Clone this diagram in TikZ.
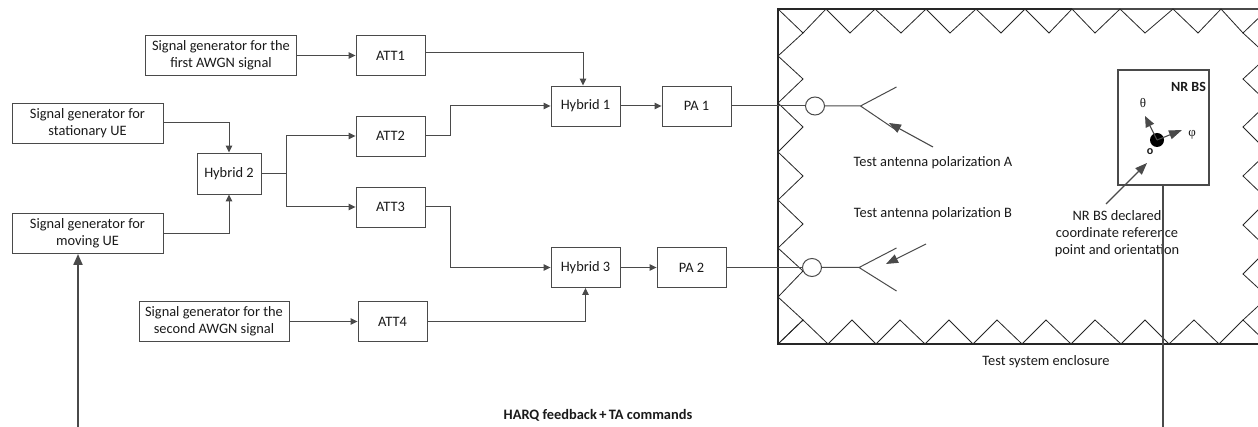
\documentclass[tikz,border=0pt]{standalone}
\usepackage{fontspec}
\setmainfont{Carlito}
\newfontfamily\symfont{Liberation Serif}
\usetikzlibrary{arrows.meta,calc,shapes.geometric}
\definecolor{ln}{HTML}{4A4A4A}
\definecolor{txt}{HTML}{1A1A1A}
\tikzset{
  base/.style={font=\fontsize{14.4}{17}\selectfont,text=txt},
  blk/.style={base,draw=ln,line width=0.9pt,fill=white,inner sep=0pt,align=center,minimum height=40pt},
  sg/.style={blk,minimum width=151pt},
  small/.style={blk,minimum width=69pt},
  lbl/.style={base,inner sep=0pt,align=center},
  wire/.style={draw=ln,line width=1pt},
  arr/.style={wire,-{Triangle[length=7pt,width=6.5pt]}},
  bigarr/.style={draw=ln,line width=1.1pt,-{Triangle[length=12pt,width=9pt]}},
  thickarr/.style={draw=ln,line width=2pt,-{Triangle[length=11pt,width=9pt]}},
  zig/.style={draw=black!85,line width=0.8pt,line join=miter},
  wall/.style={draw=black!85,line width=1.4pt},
  port/.style={draw=ln,line width=1pt,fill=white,ellipse,minimum width=19pt,minimum height=18pt,inner sep=0pt},
}
\begin{document}
\begin{tikzpicture}[x=1pt,y=-1pt]
\useasboundingbox (0,0) rectangle (1258,427);
\clip (0,0) rectangle (1258,427);
\fill[white] (0,0) rectangle (1258,427);

% enclosure
\draw[wall] (1258,9) -- (778,9) -- (778,344) -- (1258,344);
\draw[draw=ln,line width=2.2pt] (1072,9) -- (1258,9);
\draw[zig] (778,9)--(803,33)--(826,9)--(850,33)--(875,9)--(901,33)--(926,9)--(950,33)--(976,9)--(1001,33)--(1025,9)--(1049,33)--(1072,9)--(1095,33)--(1120,9)--(1145,33)--(1173,9)--(1198,33)--(1221,9)--(1243,33)--(1268,9);
\draw[zig] (803,33)--(778,56)--(803,79)--(778,103)--(803,127)--(778,152)--(803,176)--(778,200)--(803,224)--(778,248)--(803,271)--(778,297)--(803,320)--(778,344);
\draw[zig] (778,344)--(803,320)--(828,344)--(852,320)--(876,344)--(900,320)--(925,344)--(949,320)--(973,344)--(997,320)--(1022,344)--(1046,320)--(1071,344)--(1095,320)--(1121,344)--(1145,320)--(1169,344)--(1194,320)--(1219,344)--(1243,320)--(1268,344);
\draw[zig] (1243,33)--(1268,56)--(1243,79)--(1268,103)--(1243,127)--(1268,152)--(1243,176)--(1268,200)--(1243,225)--(1268,249)--(1243,274)--(1268,297)--(1243,320);

% generators and blocks
\node[sg] (sgA) at (221,55.5) {Signal generator for the\\first AWGN signal};
\node[sg] (sgS) at (87.5,123) {Signal generator for\\stationary UE};
\node[sg] (sgM) at (87.5,233.5) {Signal generator for\\moving UE};
\node[sg,minimum width=150pt] (sgB) at (214,321.5) {Signal generator for the\\second AWGN signal};
\node[small,minimum width=64pt,minimum height=41pt] (hyb2) at (229,173.5) {Hybrid 2};
\node[small] (att1) at (390.5,55.5) {ATT1};
\node[small] (att2) at (390.5,136) {ATT2};
\node[small] (att3) at (390.5,207) {ATT3};
\node[small] (att4) at (392.5,321.5) {ATT4};
\node[small] (hyb1) at (585.5,106) {Hybrid 1};
\node[small] (hyb3) at (585.5,267.5) {Hybrid 3};
\node[small] (pa1) at (696.5,106) {PA 1};
\node[small] (pa2) at (691.5,267.5) {PA 2};

% connectors
\draw[arr] (sgA) -- (att1);
\draw[arr] (sgS.east) -| (hyb2.north);
\draw[arr] (sgM.east) -| (hyb2.south);
\draw[arr] (sgB) -- (att4);
\coordinate (split) at (286,173.5);
\draw[draw=ln,line width=1.8pt] (hyb2.east) -- (split);
\draw[arr] (split) |- (att2.west);
\draw[arr] (split) |- (att3.west);
\draw[arr] ([yshift=2.5pt]att1.east) -| ([xshift=-2.5pt]hyb1.north);
\draw[arr] (att2.east) -- ++(25,0) |- (hyb1.west);
\draw[arr] (att3.east) -- ++(25,0) |- (hyb3.west);
\draw[arr] (att4.east) -| (hyb3.south);
\draw[arr] (hyb1) -- (pa1);
\draw[arr] (hyb3) -- (pa2);

% antennas
\node[port] (p1) at (815,106) {};
\node[port] (p2) at (812,267.5) {};
\coordinate (fa) at (860.5,106);
\coordinate (fb) at (859,267.5);
\coordinate (a1) at (896.5,87);
\coordinate (a2) at (896,130);
\coordinate (b1) at (896.5,248);
\coordinate (b2) at (896.5,291);
\draw[wire] (pa1) -- (p1);
\draw[wire] (pa2) -- (p2);
\draw[wire] (p1) -- (fa) (a1) -- (fa) -- (a2);
\draw[wire] (p2) -- (fb) (b1) -- (fb) -- (b2);
\coordinate (ta) at (933,147);
\coordinate (tah) at (889,123);
\coordinate (tb) at (926,244);
\coordinate (tbh) at (886,264);
\draw[bigarr] (ta) -- (tah);
\draw[bigarr] (tb) -- (tbh);

% labels
\node[lbl] (lA) at (933,162.5) {Test antenna polarization A};
\node[lbl] (lB) at (933,213.5) {Test antenna polarization B};
\node[lbl] (lO) at (1117,234) {NR BS declared\\coordinate reference\\point and orientation};
\node[lbl] (lE) at (1046,361.5) {Test system enclosure};
\node[lbl,font=\fontsize{14.4}{17}\selectfont\bfseries] (lH) at (598,415) {HARQ feedback\,+\,TA commands};

% NR BS
\node[draw=ln,line width=2.6pt,minimum width=91pt,minimum height=115pt,inner sep=0pt] (bs) at (1163.5,127.5) {};
\node[lbl,font=\fontsize{14}{17}\selectfont\bfseries] (bsl) at (1188.5,87) {NR BS};
\node[circle,fill=black,minimum size=14pt,inner sep=0pt] (dot) at (1157,140) {};
\coordinate (th) at (1145,116);
\coordinate (ph) at (1182,130);
\coordinate (dotc) at (1157,140);
\draw[draw=ln,line width=1.1pt,-{Triangle[length=11pt,width=9pt]}] (dotc) -- (th);
\draw[draw=ln,line width=1.1pt,-{Triangle[length=13pt,width=9pt]}] (dotc) -- (ph);
\node[lbl,font=\fontsize{13}{14}\selectfont\symfont] (tl) at (1143,103) {θ};
\node[lbl,font=\fontsize{13}{14}\selectfont\symfont] (pl) at (1192,135) {φ};
\node[lbl,font=\fontsize{12}{14}\selectfont\bfseries] (ol) at (1150,151.5) {o};
\coordinate (refa) at (1106,204);
\coordinate (refh) at (1147,163);
\draw[bigarr] (refa) -- (refh);
\coordinate (bsd) at (1163,427);
\draw[draw=ln,line width=2pt] (bs.south -| bsd) -- (bsd);

% feedback
\coordinate (fbk) at (78,427);
\draw[thickarr] (fbk) -- (fbk |- sgM.south);
\end{tikzpicture}
\end{document}
